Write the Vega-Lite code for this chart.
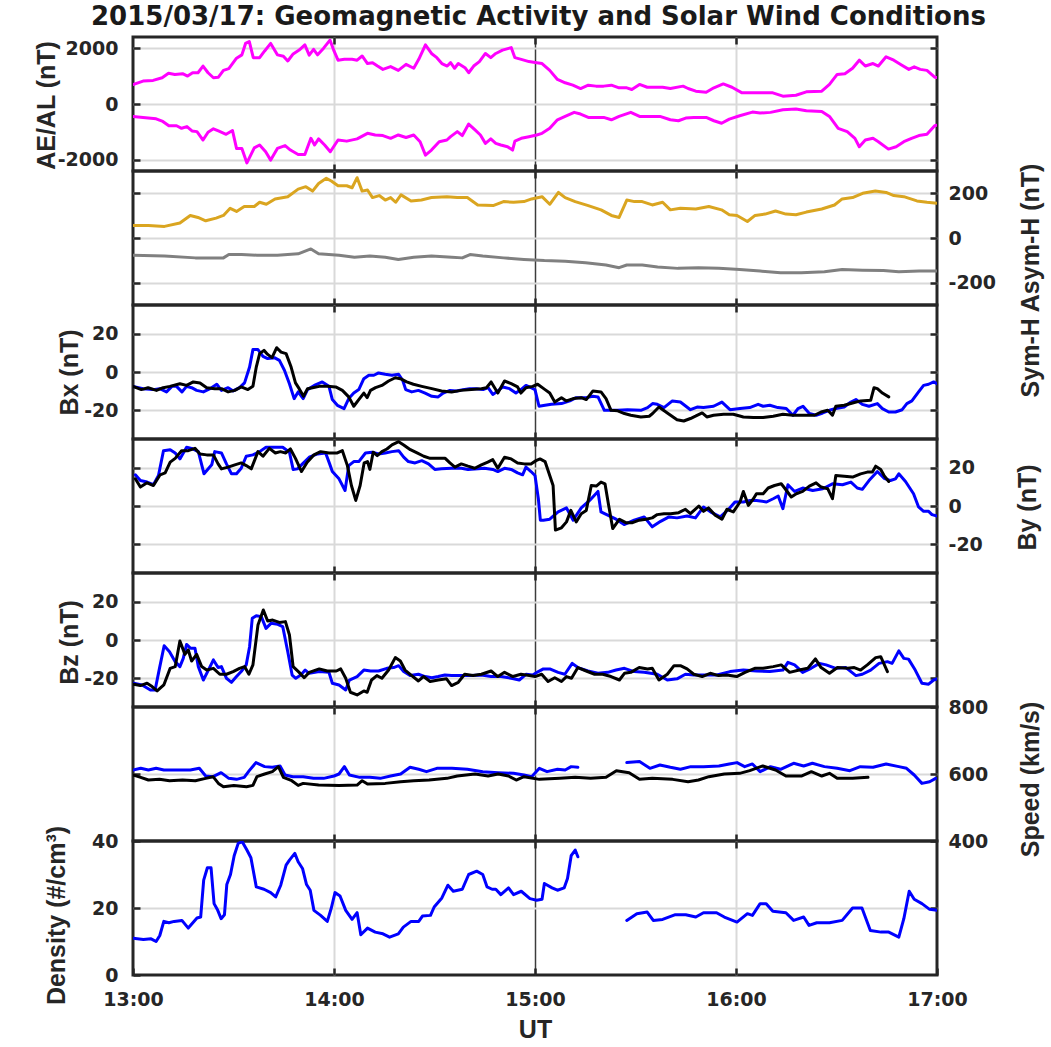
{
"$schema": "https://vega.github.io/schema/vega-lite/v6.json",
"padding": {"left": 32, "top": 4, "right": 2, "bottom": 2},
"background": "white",
"title": {"text": "2015/03/17: Geomagnetic Activity and Solar Wind Conditions", "font": "DejaVu Sans", "fontSize": 26, "fontWeight": "bold", "color": "#1a1a1a", "anchor": "middle", "offset": 4},
"bounds": "flush",
"spacing": 0,
"resolve": {"scale": {"color": "independent"}},
"config": {
  "view": {"stroke": "#262626", "strokeWidth": 3},
  "axis": {"domain": false, "tickSize": -7, "tickWidth": 2.5, "tickColor": "#262626", "gridColor": "#d9d9d9", "gridWidth": 2, "labelFont": "DejaVu Sans", "labelFontSize": 19, "labelFontWeight": "bold", "labelColor": "#262626", "titleFont": "Liberation Sans", "titleFontSize": 25, "titleFontWeight": "bold", "titleColor": "#262626"}
},
"datasets": {
"ae": [
{"m":0,"v":700,"s":"AE"},{"m":3,"v":820,"s":"AE"},{"m":6,"v":845,"s":"AE"},{"m":8.7,"v":940,"s":"AE"},{"m":10.6,"v":1100,"s":"AE"},{"m":12.5,"v":1060,"s":"AE"},{"m":14.8,"v":1085,"s":"AE"},{"m":16.3,"v":1000,"s":"AE"},{"m":17.8,"v":1120,"s":"AE"},{"m":19.4,"v":1120,"s":"AE"},{"m":20.9,"v":1360,"s":"AE"},{"m":22.4,"v":1120,"s":"AE"},{"m":24,"v":940,"s":"AE"},{"m":25.5,"v":960,"s":"AE"},{"m":27,"v":1205,"s":"AE"},{"m":28.6,"v":1265,"s":"AE"},{"m":30.9,"v":1640,"s":"AE"},{"m":32.5,"v":1760,"s":"AE"},{"m":33.6,"v":2170,"s":"AE"},{"m":34.7,"v":2240,"s":"AE"},{"m":35.9,"v":1660,"s":"AE"},{"m":37.8,"v":1660,"s":"AE"},{"m":39.3,"v":1900,"s":"AE"},{"m":41.1,"v":2170,"s":"AE"},{"m":43.1,"v":1760,"s":"AE"},{"m":44.9,"v":1710,"s":"AE"},{"m":46.2,"v":1540,"s":"AE"},{"m":47.7,"v":1780,"s":"AE"},{"m":49.6,"v":1930,"s":"AE"},{"m":51.3,"v":2120,"s":"AE"},{"m":52.6,"v":1750,"s":"AE"},{"m":53.9,"v":1960,"s":"AE"},{"m":55.1,"v":1760,"s":"AE"},{"m":56.9,"v":2000,"s":"AE"},{"m":58.8,"v":2290,"s":"AE"},{"m":60,"v":1900,"s":"AE"},{"m":61.2,"v":1570,"s":"AE"},{"m":63.1,"v":1600,"s":"AE"},{"m":65.4,"v":1600,"s":"AE"},{"m":66.9,"v":1570,"s":"AE"},{"m":68.4,"v":1720,"s":"AE"},{"m":70,"v":1450,"s":"AE"},{"m":71.5,"v":1480,"s":"AE"},{"m":73,"v":1360,"s":"AE"},{"m":74.6,"v":1240,"s":"AE"},{"m":76.9,"v":1340,"s":"AE"},{"m":79.2,"v":1205,"s":"AE"},{"m":81.5,"v":1420,"s":"AE"},{"m":83.8,"v":1280,"s":"AE"},{"m":85.3,"v":1600,"s":"AE"},{"m":87.3,"v":2120,"s":"AE"},{"m":89.1,"v":1810,"s":"AE"},{"m":90.7,"v":1660,"s":"AE"},{"m":92.2,"v":1450,"s":"AE"},{"m":93.8,"v":1360,"s":"AE"},{"m":94.8,"v":1480,"s":"AE"},{"m":96,"v":1280,"s":"AE"},{"m":97.1,"v":1450,"s":"AE"},{"m":99.1,"v":1300,"s":"AE"},{"m":100.2,"v":1120,"s":"AE"},{"m":101.7,"v":1360,"s":"AE"},{"m":103.4,"v":1520,"s":"AE"},{"m":105.2,"v":1810,"s":"AE"},{"m":106.8,"v":1660,"s":"AE"},{"m":108.3,"v":1810,"s":"AE"},{"m":110.3,"v":1930,"s":"AE"},{"m":112.9,"v":2020,"s":"AE"},{"m":114,"v":1660,"s":"AE"},{"m":115.9,"v":1600,"s":"AE"},{"m":118.2,"v":1520,"s":"AE"},{"m":120.5,"v":1480,"s":"AE"},{"m":122.1,"v":1450,"s":"AE"},{"m":124.4,"v":1205,"s":"AE"},{"m":126.7,"v":880,"s":"AE"},{"m":129,"v":760,"s":"AE"},{"m":131.3,"v":675,"s":"AE"},{"m":133.6,"v":555,"s":"AE"},{"m":135.9,"v":675,"s":"AE"},{"m":138.2,"v":640,"s":"AE"},{"m":140.5,"v":640,"s":"AE"},{"m":142.8,"v":675,"s":"AE"},{"m":145.1,"v":580,"s":"AE"},{"m":147.4,"v":580,"s":"AE"},{"m":148.9,"v":520,"s":"AE"},{"m":151.2,"v":700,"s":"AE"},{"m":153.5,"v":600,"s":"AE"},{"m":158.1,"v":600,"s":"AE"},{"m":160.4,"v":555,"s":"AE"},{"m":164.2,"v":640,"s":"AE"},{"m":165.7,"v":555,"s":"AE"},{"m":168,"v":460,"s":"AE"},{"m":171.1,"v":420,"s":"AE"},{"m":173.4,"v":580,"s":"AE"},{"m":176.2,"v":720,"s":"AE"},{"m":178.8,"v":600,"s":"AE"},{"m":181.8,"v":400,"s":"AE"},{"m":184.9,"v":400,"s":"AE"},{"m":191,"v":400,"s":"AE"},{"m":194,"v":280,"s":"AE"},{"m":197.9,"v":315,"s":"AE"},{"m":201,"v":435,"s":"AE"},{"m":205.6,"v":460,"s":"AE"},{"m":207.9,"v":700,"s":"AE"},{"m":210.2,"v":1060,"s":"AE"},{"m":212.5,"v":1085,"s":"AE"},{"m":214.8,"v":1280,"s":"AE"},{"m":216.8,"v":1570,"s":"AE"},{"m":218.6,"v":1360,"s":"AE"},{"m":220.9,"v":1450,"s":"AE"},{"m":222.5,"v":1360,"s":"AE"},{"m":224.8,"v":1690,"s":"AE"},{"m":227.1,"v":1570,"s":"AE"},{"m":229.4,"v":1400,"s":"AE"},{"m":231.6,"v":1240,"s":"AE"},{"m":233.2,"v":1330,"s":"AE"},{"m":235,"v":1240,"s":"AE"},{"m":237,"v":1205,"s":"AE"},{"m":239.3,"v":960,"s":"AE"},{"m":240,"v":950,"s":"AE"},
{"m":0,"v":-446,"s":"AL"},{"m":3,"v":-480,"s":"AL"},{"m":6.9,"v":-530,"s":"AL"},{"m":8.9,"v":-625,"s":"AL"},{"m":10.7,"v":-780,"s":"AL"},{"m":13,"v":-780,"s":"AL"},{"m":14.5,"v":-870,"s":"AL"},{"m":16.1,"v":-810,"s":"AL"},{"m":17.6,"v":-965,"s":"AL"},{"m":19.1,"v":-990,"s":"AL"},{"m":20.9,"v":-1290,"s":"AL"},{"m":22.4,"v":-1010,"s":"AL"},{"m":24,"v":-890,"s":"AL"},{"m":25.5,"v":-965,"s":"AL"},{"m":27.8,"v":-1085,"s":"AL"},{"m":29.7,"v":-950,"s":"AL"},{"m":30.9,"v":-1590,"s":"AL"},{"m":32.5,"v":-1590,"s":"AL"},{"m":34,"v":-2110,"s":"AL"},{"m":36.2,"v":-1570,"s":"AL"},{"m":37.8,"v":-1470,"s":"AL"},{"m":39.6,"v":-1710,"s":"AL"},{"m":41.1,"v":-2010,"s":"AL"},{"m":43.1,"v":-1590,"s":"AL"},{"m":45.4,"v":-1490,"s":"AL"},{"m":47,"v":-1650,"s":"AL"},{"m":49.3,"v":-1810,"s":"AL"},{"m":51.3,"v":-1810,"s":"AL"},{"m":53.1,"v":-1230,"s":"AL"},{"m":54.2,"v":-1470,"s":"AL"},{"m":55.4,"v":-1250,"s":"AL"},{"m":57.2,"v":-1470,"s":"AL"},{"m":58.9,"v":-1710,"s":"AL"},{"m":61.2,"v":-1290,"s":"AL"},{"m":63.8,"v":-1330,"s":"AL"},{"m":66.9,"v":-1250,"s":"AL"},{"m":70,"v":-1050,"s":"AL"},{"m":72.3,"v":-1110,"s":"AL"},{"m":74.6,"v":-1130,"s":"AL"},{"m":76.9,"v":-1230,"s":"AL"},{"m":79.2,"v":-1110,"s":"AL"},{"m":81.5,"v":-1200,"s":"AL"},{"m":83.8,"v":-1110,"s":"AL"},{"m":85.7,"v":-1350,"s":"AL"},{"m":87.3,"v":-1830,"s":"AL"},{"m":89.1,"v":-1650,"s":"AL"},{"m":91.4,"v":-1350,"s":"AL"},{"m":93.7,"v":-1290,"s":"AL"},{"m":94.8,"v":-1170,"s":"AL"},{"m":96.8,"v":-990,"s":"AL"},{"m":98.3,"v":-1130,"s":"AL"},{"m":100.2,"v":-720,"s":"AL"},{"m":102.1,"v":-930,"s":"AL"},{"m":103.7,"v":-1110,"s":"AL"},{"m":105.2,"v":-1410,"s":"AL"},{"m":106.8,"v":-1250,"s":"AL"},{"m":108.3,"v":-1410,"s":"AL"},{"m":109.8,"v":-1470,"s":"AL"},{"m":111.8,"v":-1530,"s":"AL"},{"m":113.3,"v":-1650,"s":"AL"},{"m":114,"v":-1330,"s":"AL"},{"m":115.9,"v":-1230,"s":"AL"},{"m":118.2,"v":-1170,"s":"AL"},{"m":120.5,"v":-1110,"s":"AL"},{"m":122.1,"v":-1050,"s":"AL"},{"m":124.4,"v":-870,"s":"AL"},{"m":126.7,"v":-565,"s":"AL"},{"m":129,"v":-445,"s":"AL"},{"m":131.7,"v":-300,"s":"AL"},{"m":133.6,"v":-360,"s":"AL"},{"m":135.9,"v":-480,"s":"AL"},{"m":138.2,"v":-480,"s":"AL"},{"m":140.5,"v":-480,"s":"AL"},{"m":142.8,"v":-565,"s":"AL"},{"m":145.1,"v":-445,"s":"AL"},{"m":148.6,"v":-300,"s":"AL"},{"m":151.2,"v":-445,"s":"AL"},{"m":153.5,"v":-445,"s":"AL"},{"m":157.3,"v":-445,"s":"AL"},{"m":160.4,"v":-565,"s":"AL"},{"m":162.8,"v":-600,"s":"AL"},{"m":165,"v":-505,"s":"AL"},{"m":167.4,"v":-480,"s":"AL"},{"m":171.1,"v":-480,"s":"AL"},{"m":173.4,"v":-600,"s":"AL"},{"m":175.7,"v":-690,"s":"AL"},{"m":178,"v":-540,"s":"AL"},{"m":181.1,"v":-420,"s":"AL"},{"m":184.9,"v":-290,"s":"AL"},{"m":187.2,"v":-325,"s":"AL"},{"m":190.3,"v":-300,"s":"AL"},{"m":194,"v":-205,"s":"AL"},{"m":197.9,"v":-180,"s":"AL"},{"m":201,"v":-240,"s":"AL"},{"m":205.6,"v":-265,"s":"AL"},{"m":207.9,"v":-445,"s":"AL"},{"m":210.5,"v":-870,"s":"AL"},{"m":213.2,"v":-990,"s":"AL"},{"m":215.5,"v":-1230,"s":"AL"},{"m":216.8,"v":-1530,"s":"AL"},{"m":218.6,"v":-1290,"s":"AL"},{"m":220.9,"v":-1230,"s":"AL"},{"m":222.5,"v":-1350,"s":"AL"},{"m":225.5,"v":-1615,"s":"AL"},{"m":227.8,"v":-1530,"s":"AL"},{"m":230.1,"v":-1350,"s":"AL"},{"m":232.4,"v":-1230,"s":"AL"},{"m":234.6,"v":-1130,"s":"AL"},{"m":237,"v":-1085,"s":"AL"},{"m":239.3,"v":-780,"s":"AL"},{"m":240,"v":-760,"s":"AL"}
],
"sym": [
{"m":0,"v":56,"s":"ASY-H"},{"m":4.6,"v":56,"s":"ASY-H"},{"m":9.4,"v":52,"s":"ASY-H"},{"m":14,"v":67,"s":"ASY-H"},{"m":17.1,"v":101,"s":"ASY-H"},{"m":19.4,"v":92,"s":"ASY-H"},{"m":21.7,"v":77,"s":"ASY-H"},{"m":24.8,"v":89,"s":"ASY-H"},{"m":27,"v":101,"s":"ASY-H"},{"m":29,"v":133,"s":"ASY-H"},{"m":30.9,"v":119,"s":"ASY-H"},{"m":33.2,"v":141,"s":"ASY-H"},{"m":36.2,"v":141,"s":"ASY-H"},{"m":37.8,"v":160,"s":"ASY-H"},{"m":39.8,"v":151,"s":"ASY-H"},{"m":42.4,"v":175,"s":"ASY-H"},{"m":46.2,"v":185,"s":"ASY-H"},{"m":49.3,"v":219,"s":"ASY-H"},{"m":51.6,"v":230,"s":"ASY-H"},{"m":53.6,"v":210,"s":"ASY-H"},{"m":55.4,"v":244,"s":"ASY-H"},{"m":57.7,"v":267,"s":"ASY-H"},{"m":59.2,"v":255,"s":"ASY-H"},{"m":61.2,"v":234,"s":"ASY-H"},{"m":63.8,"v":234,"s":"ASY-H"},{"m":65.4,"v":225,"s":"ASY-H"},{"m":66.9,"v":270,"s":"ASY-H"},{"m":68.4,"v":210,"s":"ASY-H"},{"m":70,"v":215,"s":"ASY-H"},{"m":71.5,"v":181,"s":"ASY-H"},{"m":73.5,"v":190,"s":"ASY-H"},{"m":75.3,"v":170,"s":"ASY-H"},{"m":76.9,"v":181,"s":"ASY-H"},{"m":78.4,"v":160,"s":"ASY-H"},{"m":80,"v":193,"s":"ASY-H"},{"m":83,"v":166,"s":"ASY-H"},{"m":86.1,"v":170,"s":"ASY-H"},{"m":89.1,"v":181,"s":"ASY-H"},{"m":93.7,"v":185,"s":"ASY-H"},{"m":96.8,"v":181,"s":"ASY-H"},{"m":99.8,"v":181,"s":"ASY-H"},{"m":102.9,"v":148,"s":"ASY-H"},{"m":107.5,"v":145,"s":"ASY-H"},{"m":110.6,"v":163,"s":"ASY-H"},{"m":113.6,"v":160,"s":"ASY-H"},{"m":116.7,"v":163,"s":"ASY-H"},{"m":119,"v":175,"s":"ASY-H"},{"m":122.1,"v":185,"s":"ASY-H"},{"m":124.4,"v":151,"s":"ASY-H"},{"m":127,"v":204,"s":"ASY-H"},{"m":129,"v":181,"s":"ASY-H"},{"m":132,"v":163,"s":"ASY-H"},{"m":135.9,"v":145,"s":"ASY-H"},{"m":139.7,"v":126,"s":"ASY-H"},{"m":142.8,"v":101,"s":"ASY-H"},{"m":145.1,"v":92,"s":"ASY-H"},{"m":147.4,"v":170,"s":"ASY-H"},{"m":149.7,"v":163,"s":"ASY-H"},{"m":152,"v":163,"s":"ASY-H"},{"m":155,"v":148,"s":"ASY-H"},{"m":158.1,"v":160,"s":"ASY-H"},{"m":160.4,"v":126,"s":"ASY-H"},{"m":163.4,"v":133,"s":"ASY-H"},{"m":168,"v":130,"s":"ASY-H"},{"m":171.9,"v":141,"s":"ASY-H"},{"m":175.7,"v":126,"s":"ASY-H"},{"m":178,"v":104,"s":"ASY-H"},{"m":180.3,"v":101,"s":"ASY-H"},{"m":183.4,"v":74,"s":"ASY-H"},{"m":185.7,"v":101,"s":"ASY-H"},{"m":188.7,"v":107,"s":"ASY-H"},{"m":191.8,"v":121,"s":"ASY-H"},{"m":194.9,"v":107,"s":"ASY-H"},{"m":197.9,"v":104,"s":"ASY-H"},{"m":201,"v":116,"s":"ASY-H"},{"m":205.6,"v":130,"s":"ASY-H"},{"m":209.4,"v":148,"s":"ASY-H"},{"m":211.7,"v":175,"s":"ASY-H"},{"m":214.8,"v":181,"s":"ASY-H"},{"m":217.8,"v":200,"s":"ASY-H"},{"m":221.6,"v":210,"s":"ASY-H"},{"m":224.8,"v":204,"s":"ASY-H"},{"m":227.1,"v":190,"s":"ASY-H"},{"m":230.1,"v":185,"s":"ASY-H"},{"m":234,"v":166,"s":"ASY-H"},{"m":237,"v":160,"s":"ASY-H"},{"m":240,"v":156,"s":"ASY-H"},
{"m":0,"v":-77,"s":"SYM-H"},{"m":9.4,"v":-81,"s":"SYM-H"},{"m":18.6,"v":-89,"s":"SYM-H"},{"m":27,"v":-89,"s":"SYM-H"},{"m":28.6,"v":-74,"s":"SYM-H"},{"m":32.4,"v":-74,"s":"SYM-H"},{"m":37,"v":-77,"s":"SYM-H"},{"m":43.1,"v":-77,"s":"SYM-H"},{"m":49.3,"v":-71,"s":"SYM-H"},{"m":53.1,"v":-49,"s":"SYM-H"},{"m":55.4,"v":-71,"s":"SYM-H"},{"m":61.5,"v":-77,"s":"SYM-H"},{"m":66.1,"v":-86,"s":"SYM-H"},{"m":70.7,"v":-81,"s":"SYM-H"},{"m":75.3,"v":-86,"s":"SYM-H"},{"m":79.2,"v":-96,"s":"SYM-H"},{"m":83.8,"v":-86,"s":"SYM-H"},{"m":89.1,"v":-81,"s":"SYM-H"},{"m":95.2,"v":-86,"s":"SYM-H"},{"m":98.3,"v":-89,"s":"SYM-H"},{"m":100.6,"v":-74,"s":"SYM-H"},{"m":104.4,"v":-81,"s":"SYM-H"},{"m":110.6,"v":-89,"s":"SYM-H"},{"m":116.7,"v":-96,"s":"SYM-H"},{"m":122.8,"v":-101,"s":"SYM-H"},{"m":129,"v":-104,"s":"SYM-H"},{"m":135.1,"v":-111,"s":"SYM-H"},{"m":141.2,"v":-121,"s":"SYM-H"},{"m":145.1,"v":-133,"s":"SYM-H"},{"m":147.4,"v":-121,"s":"SYM-H"},{"m":152,"v":-121,"s":"SYM-H"},{"m":156.6,"v":-130,"s":"SYM-H"},{"m":162.7,"v":-136,"s":"SYM-H"},{"m":168.8,"v":-133,"s":"SYM-H"},{"m":174.9,"v":-136,"s":"SYM-H"},{"m":181.1,"v":-141,"s":"SYM-H"},{"m":187.2,"v":-148,"s":"SYM-H"},{"m":193.3,"v":-156,"s":"SYM-H"},{"m":199.5,"v":-156,"s":"SYM-H"},{"m":206.4,"v":-151,"s":"SYM-H"},{"m":211.7,"v":-141,"s":"SYM-H"},{"m":217.8,"v":-144,"s":"SYM-H"},{"m":224,"v":-146,"s":"SYM-H"},{"m":228.6,"v":-151,"s":"SYM-H"},{"m":234.7,"v":-148,"s":"SYM-H"},{"m":240,"v":-148,"s":"SYM-H"}
],
"bx": [
{"m":0,"v":-7.5,"s":"a"},{"m":3,"v":-8.7,"s":"a"},{"m":6,"v":-9.2,"s":"a"},{"m":8,"v":-8.7,"s":"a"},{"m":10,"v":-10.4,"s":"a"},{"m":11.6,"v":-7.5,"s":"a"},{"m":13,"v":-7.5,"s":"a"},{"m":14.6,"v":-10.4,"s":"a"},{"m":16,"v":-7.5,"s":"a"},{"m":17.5,"v":-8.2,"s":"a"},{"m":19,"v":-9.6,"s":"a"},{"m":21,"v":-10.4,"s":"a"},{"m":23,"v":-8.7,"s":"a"},{"m":25,"v":-6.4,"s":"a"},{"m":26.4,"v":-9.6,"s":"a"},{"m":28.4,"v":-8.2,"s":"a"},{"m":29.9,"v":-9.9,"s":"a"},{"m":31.8,"v":-8.2,"s":"a"},{"m":33.3,"v":-5.7,"s":"a"},{"m":34.8,"v":2.6,"s":"a"},{"m":35.8,"v":11.7,"s":"a"},{"m":37.3,"v":11.7,"s":"a"},{"m":38.8,"v":8.2,"s":"a"},{"m":40.2,"v":7,"s":"a"},{"m":42.2,"v":7.5,"s":"a"},{"m":43.7,"v":6.1,"s":"a"},{"m":45.2,"v":0.9,"s":"a"},{"m":46.7,"v":-6.1,"s":"a"},{"m":48.1,"v":-13.9,"s":"a"},{"m":49.3,"v":-10.4,"s":"a"},{"m":50.8,"v":-13.9,"s":"a"},{"m":52.1,"v":-9.2,"s":"a"},{"m":54.1,"v":-7,"s":"a"},{"m":56.5,"v":-5.2,"s":"a"},{"m":58.5,"v":-7.5,"s":"a"},{"m":59.5,"v":-14.4,"s":"a"},{"m":61,"v":-17.4,"s":"a"},{"m":63,"v":-19.1,"s":"a"},{"m":64.4,"v":-13.9,"s":"a"},{"m":65.9,"v":-11,"s":"a"},{"m":67.4,"v":-9.2,"s":"a"},{"m":68.9,"v":-3.5,"s":"a"},{"m":70.4,"v":-1.7,"s":"a"},{"m":71.9,"v":-1.7,"s":"a"},{"m":73.3,"v":-0.5,"s":"a"},{"m":75.3,"v":-1.2,"s":"a"},{"m":77.3,"v":-1.7,"s":"a"},{"m":79.3,"v":-1.2,"s":"a"},{"m":80.5,"v":-4.3,"s":"a"},{"m":81.4,"v":-9.2,"s":"a"},{"m":83.2,"v":-10.4,"s":"a"},{"m":85.2,"v":-9.6,"s":"a"},{"m":87.2,"v":-11,"s":"a"},{"m":89.2,"v":-12.7,"s":"a"},{"m":91.1,"v":-13,"s":"a"},{"m":92.6,"v":-11,"s":"a"},{"m":94.6,"v":-9.6,"s":"a"},{"m":96.6,"v":-9.9,"s":"a"},{"m":98.5,"v":-9.2,"s":"a"},{"m":100.5,"v":-8.7,"s":"a"},{"m":102.5,"v":-8.7,"s":"a"},{"m":104.5,"v":-9.2,"s":"a"},{"m":106,"v":-8.2,"s":"a"},{"m":107.4,"v":-11.7,"s":"a"},{"m":108.9,"v":-9.9,"s":"a"},{"m":110.4,"v":-7.8,"s":"a"},{"m":112.4,"v":-8.7,"s":"a"},{"m":114.3,"v":-11,"s":"a"},{"m":115.8,"v":-9.2,"s":"a"},{"m":117.3,"v":-7,"s":"a"},{"m":118.8,"v":-8.2,"s":"a"},{"m":120,"v":-9.2,"s":"a"},{"m":121.2,"v":-17.9,"s":"a"},{"m":123,"v":-17.4,"s":"a"},{"m":124.9,"v":-16.9,"s":"a"},{"m":127.9,"v":-16.5,"s":"a"},{"m":130.4,"v":-15.1,"s":"a"},{"m":132.3,"v":-13.4,"s":"a"},{"m":135.3,"v":-13.4,"s":"a"},{"m":137.3,"v":-12.7,"s":"a"},{"m":138.8,"v":-13,"s":"a"},{"m":140.7,"v":-20,"s":"a"},{"m":144.7,"v":-20,"s":"a"},{"m":147.6,"v":-19.7,"s":"a"},{"m":151.6,"v":-20,"s":"a"},{"m":153.6,"v":-18.6,"s":"a"},{"m":155.1,"v":-16.5,"s":"a"},{"m":156.5,"v":-16.9,"s":"a"},{"m":158.5,"v":-18.6,"s":"a"},{"m":161,"v":-15.1,"s":"a"},{"m":163.4,"v":-15.7,"s":"a"},{"m":166.4,"v":-19.7,"s":"a"},{"m":168.4,"v":-18.3,"s":"a"},{"m":170.3,"v":-18.6,"s":"a"},{"m":173.3,"v":-17.9,"s":"a"},{"m":175.8,"v":-15.7,"s":"a"},{"m":178.2,"v":-19.7,"s":"a"},{"m":181.2,"v":-19.1,"s":"a"},{"m":184.1,"v":-18.6,"s":"a"},{"m":186.6,"v":-16.9,"s":"a"},{"m":188.1,"v":-17.9,"s":"a"},{"m":190.1,"v":-17.4,"s":"a"},{"m":192.5,"v":-18.6,"s":"a"},{"m":195,"v":-19.1,"s":"a"},{"m":197,"v":-22.6,"s":"a"},{"m":198.5,"v":-19.1,"s":"a"},{"m":200,"v":-17.9,"s":"a"},{"m":201.9,"v":-21.7,"s":"a"},{"m":203.9,"v":-22.6,"s":"a"},{"m":205.9,"v":-21.4,"s":"a"},{"m":207.9,"v":-20,"s":"a"},{"m":209.8,"v":-19.1,"s":"a"},{"m":212.3,"v":-18.3,"s":"a"},{"m":214.3,"v":-15.7,"s":"a"},{"m":215.8,"v":-14.4,"s":"a"},{"m":217.7,"v":-16.9,"s":"a"},{"m":219.7,"v":-17.9,"s":"a"},{"m":222.2,"v":-16.5,"s":"a"},{"m":223.7,"v":-19.1,"s":"a"},{"m":225.6,"v":-20.9,"s":"a"},{"m":227.6,"v":-20.9,"s":"a"},{"m":229.6,"v":-19.7,"s":"a"},{"m":231,"v":-16.5,"s":"a"},{"m":232.5,"v":-15.1,"s":"a"},{"m":234.5,"v":-10.4,"s":"a"},{"m":236,"v":-7,"s":"a"},{"m":237.5,"v":-6.4,"s":"a"},{"m":239,"v":-5.2,"s":"a"},{"m":240,"v":-6.1,"s":"a"},
{"m":0,"v":-7.5,"s":"b"},{"m":2.5,"v":-9.2,"s":"b"},{"m":4.5,"v":-8.2,"s":"b"},{"m":7,"v":-9.6,"s":"b"},{"m":9,"v":-8.2,"s":"b"},{"m":11,"v":-7.5,"s":"b"},{"m":14,"v":-6.1,"s":"b"},{"m":16,"v":-7,"s":"b"},{"m":18,"v":-5.2,"s":"b"},{"m":20,"v":-5.7,"s":"b"},{"m":22,"v":-8.2,"s":"b"},{"m":24.4,"v":-8.7,"s":"b"},{"m":26.4,"v":-8.7,"s":"b"},{"m":28.4,"v":-10.4,"s":"b"},{"m":30.4,"v":-9.6,"s":"b"},{"m":32.3,"v":-7.8,"s":"b"},{"m":34.3,"v":-9.2,"s":"b"},{"m":35.8,"v":-7.5,"s":"b"},{"m":36.8,"v":2.6,"s":"b"},{"m":37.8,"v":9.6,"s":"b"},{"m":39.1,"v":11.3,"s":"b"},{"m":40.2,"v":9.2,"s":"b"},{"m":41.5,"v":7.5,"s":"b"},{"m":42.9,"v":12.7,"s":"b"},{"m":44.2,"v":10.4,"s":"b"},{"m":45.7,"v":9.6,"s":"b"},{"m":47.2,"v":2.6,"s":"b"},{"m":48.5,"v":-5.7,"s":"b"},{"m":49.6,"v":-8.7,"s":"b"},{"m":50.9,"v":-12.7,"s":"b"},{"m":52.1,"v":-8.7,"s":"b"},{"m":53.6,"v":-8.2,"s":"b"},{"m":55.6,"v":-7.5,"s":"b"},{"m":58,"v":-7.5,"s":"b"},{"m":60.5,"v":-7.8,"s":"b"},{"m":62.5,"v":-9.6,"s":"b"},{"m":64.4,"v":-13,"s":"b"},{"m":65.9,"v":-17.9,"s":"b"},{"m":67.4,"v":-14.4,"s":"b"},{"m":68.9,"v":-11,"s":"b"},{"m":69.9,"v":-13.4,"s":"b"},{"m":70.9,"v":-9.6,"s":"b"},{"m":72.4,"v":-8.2,"s":"b"},{"m":74.3,"v":-7,"s":"b"},{"m":76.3,"v":-4.7,"s":"b"},{"m":78.3,"v":-3,"s":"b"},{"m":79.8,"v":-3.5,"s":"b"},{"m":81.7,"v":-5.2,"s":"b"},{"m":83.7,"v":-6.4,"s":"b"},{"m":86.2,"v":-7.5,"s":"b"},{"m":89.2,"v":-8.7,"s":"b"},{"m":92.1,"v":-9.9,"s":"b"},{"m":95.1,"v":-10.4,"s":"b"},{"m":98,"v":-9.6,"s":"b"},{"m":101,"v":-9.2,"s":"b"},{"m":104,"v":-8.7,"s":"b"},{"m":105.5,"v":-8.2,"s":"b"},{"m":106.9,"v":-5.2,"s":"b"},{"m":108.9,"v":-11,"s":"b"},{"m":110.9,"v":-4.7,"s":"b"},{"m":112.9,"v":-6.1,"s":"b"},{"m":114.8,"v":-7.8,"s":"b"},{"m":115.8,"v":-11,"s":"b"},{"m":117.3,"v":-8.2,"s":"b"},{"m":119.3,"v":-7.5,"s":"b"},{"m":120.8,"v":-6.4,"s":"b"},{"m":123,"v":-9.2,"s":"b"},{"m":124.4,"v":-11,"s":"b"},{"m":125.9,"v":-15.7,"s":"b"},{"m":127.9,"v":-13.4,"s":"b"},{"m":129.4,"v":-15.1,"s":"b"},{"m":131.4,"v":-13.9,"s":"b"},{"m":133.8,"v":-13.4,"s":"b"},{"m":135.3,"v":-14.4,"s":"b"},{"m":137.3,"v":-9.9,"s":"b"},{"m":139.7,"v":-10.4,"s":"b"},{"m":141.2,"v":-13.9,"s":"b"},{"m":142.7,"v":-20,"s":"b"},{"m":144.7,"v":-20.3,"s":"b"},{"m":146.7,"v":-21.7,"s":"b"},{"m":148.6,"v":-22.6,"s":"b"},{"m":151.6,"v":-23.5,"s":"b"},{"m":154.1,"v":-23.1,"s":"b"},{"m":155.1,"v":-21.7,"s":"b"},{"m":157,"v":-18.3,"s":"b"},{"m":159.5,"v":-21.4,"s":"b"},{"m":162.4,"v":-24.9,"s":"b"},{"m":164.4,"v":-25.6,"s":"b"},{"m":166.4,"v":-24.3,"s":"b"},{"m":167.9,"v":-23.1,"s":"b"},{"m":169.9,"v":-21.4,"s":"b"},{"m":171.3,"v":-23.5,"s":"b"},{"m":173.3,"v":-22.6,"s":"b"},{"m":176.3,"v":-22.1,"s":"b"},{"m":179.2,"v":-22.1,"s":"b"},{"m":182.2,"v":-23.5,"s":"b"},{"m":185.2,"v":-23.8,"s":"b"},{"m":188.1,"v":-23.8,"s":"b"},{"m":191.1,"v":-23.1,"s":"b"},{"m":194,"v":-22.1,"s":"b"},{"m":197,"v":-22.6,"s":"b"},{"m":200.9,"v":-22.6,"s":"b"},{"m":203.4,"v":-22.6,"s":"b"},{"m":205.4,"v":-20.9,"s":"b"},{"m":207.4,"v":-20,"s":"b"},{"m":208.8,"v":-22.6,"s":"b"},{"m":209.8,"v":-17.9,"s":"b"},{"m":212.3,"v":-17.4,"s":"b"},{"m":214.8,"v":-16.2,"s":"b"},{"m":217.2,"v":-15.1,"s":"b"},{"m":220.2,"v":-14.8,"s":"b"},{"m":221.2,"v":-8.2,"s":"b"},{"m":222.2,"v":-8.7,"s":"b"},{"m":223.7,"v":-11,"s":"b"},{"m":225.6,"v":-13,"s":"b"}
],
"by": [
{"m":0.7,"v":16.3,"s":"a"},{"m":2.2,"v":13.3,"s":"a"},{"m":4.2,"v":12.5,"s":"a"},{"m":6.1,"v":11.1,"s":"a"},{"m":7.6,"v":15.9,"s":"a"},{"m":9.1,"v":28.9,"s":"a"},{"m":11.1,"v":29.4,"s":"a"},{"m":12.6,"v":27.7,"s":"a"},{"m":14,"v":24.6,"s":"a"},{"m":16,"v":30.7,"s":"a"},{"m":17.5,"v":30.1,"s":"a"},{"m":19.5,"v":28.4,"s":"a"},{"m":21.2,"v":16.8,"s":"a"},{"m":23.5,"v":21.5,"s":"a"},{"m":24.4,"v":28.4,"s":"a"},{"m":26.4,"v":27.7,"s":"a"},{"m":27.9,"v":22,"s":"a"},{"m":29.4,"v":16.8,"s":"a"},{"m":30.9,"v":16.8,"s":"a"},{"m":32.3,"v":19.7,"s":"a"},{"m":33.8,"v":26,"s":"a"},{"m":35.8,"v":26.7,"s":"a"},{"m":37.8,"v":28.4,"s":"a"},{"m":39.7,"v":30.7,"s":"a"},{"m":41.7,"v":30.7,"s":"a"},{"m":44.7,"v":30.7,"s":"a"},{"m":46.7,"v":28.1,"s":"a"},{"m":47.8,"v":19.1,"s":"a"},{"m":49.1,"v":19.4,"s":"a"},{"m":50.6,"v":22,"s":"a"},{"m":52.6,"v":25.5,"s":"a"},{"m":55.1,"v":27.2,"s":"a"},{"m":57.5,"v":27.7,"s":"a"},{"m":58.7,"v":22,"s":"a"},{"m":59.5,"v":18,"s":"a"},{"m":61.5,"v":14.2,"s":"a"},{"m":63.3,"v":8.1,"s":"a"},{"m":64.4,"v":21.1,"s":"a"},{"m":65.9,"v":23.2,"s":"a"},{"m":67.4,"v":23.2,"s":"a"},{"m":69.4,"v":27.7,"s":"a"},{"m":71.4,"v":28.1,"s":"a"},{"m":73.3,"v":27.2,"s":"a"},{"m":75.3,"v":27.7,"s":"a"},{"m":77.3,"v":28.4,"s":"a"},{"m":79.3,"v":28.9,"s":"a"},{"m":80.8,"v":25.5,"s":"a"},{"m":82.2,"v":23.2,"s":"a"},{"m":84.2,"v":22.5,"s":"a"},{"m":86.2,"v":23.7,"s":"a"},{"m":88.2,"v":22,"s":"a"},{"m":90.1,"v":19.1,"s":"a"},{"m":92.1,"v":19.4,"s":"a"},{"m":95.1,"v":19.7,"s":"a"},{"m":98,"v":19.7,"s":"a"},{"m":100,"v":19.1,"s":"a"},{"m":103,"v":19.4,"s":"a"},{"m":104.9,"v":19.7,"s":"a"},{"m":107.4,"v":19.1,"s":"a"},{"m":108.9,"v":18,"s":"a"},{"m":110.9,"v":19.7,"s":"a"},{"m":112.9,"v":19.1,"s":"a"},{"m":114.8,"v":17.3,"s":"a"},{"m":116.3,"v":16.3,"s":"a"},{"m":117.3,"v":20.3,"s":"a"},{"m":118.8,"v":18,"s":"a"},{"m":120,"v":15.9,"s":"a"},{"m":121,"v":3.8,"s":"a"},{"m":121.6,"v":-7.4,"s":"a"},{"m":122.5,"v":-7.4,"s":"a"},{"m":124.4,"v":-6.9,"s":"a"},{"m":126.9,"v":-3.1,"s":"a"},{"m":129.4,"v":-1,"s":"a"},{"m":131.4,"v":-7.4,"s":"a"},{"m":133.8,"v":-1,"s":"a"},{"m":136.3,"v":2.9,"s":"a"},{"m":138.8,"v":7.6,"s":"a"},{"m":139.7,"v":-3.1,"s":"a"},{"m":141.7,"v":-4.8,"s":"a"},{"m":144.2,"v":-6.9,"s":"a"},{"m":146.6,"v":-9.7,"s":"a"},{"m":149.6,"v":-7.4,"s":"a"},{"m":152.6,"v":-5.7,"s":"a"},{"m":155,"v":-10.9,"s":"a"},{"m":157.5,"v":-8,"s":"a"},{"m":160,"v":-5.7,"s":"a"},{"m":162.4,"v":-6.2,"s":"a"},{"m":165.4,"v":-5.2,"s":"a"},{"m":167.9,"v":-6.2,"s":"a"},{"m":170.3,"v":-0.5,"s":"a"},{"m":172.8,"v":-3.5,"s":"a"},{"m":175.3,"v":-5.7,"s":"a"},{"m":177.8,"v":-1.7,"s":"a"},{"m":179.7,"v":2.1,"s":"a"},{"m":182.2,"v":2.1,"s":"a"},{"m":184.2,"v":2.9,"s":"a"},{"m":186.1,"v":2.9,"s":"a"},{"m":189.1,"v":2.1,"s":"a"},{"m":191.1,"v":3.8,"s":"a"},{"m":192.6,"v":5.2,"s":"a"},{"m":194,"v":-1.4,"s":"a"},{"m":195.5,"v":11.1,"s":"a"},{"m":197.5,"v":7.6,"s":"a"},{"m":199.9,"v":9.4,"s":"a"},{"m":202.9,"v":8.1,"s":"a"},{"m":205.9,"v":9,"s":"a"},{"m":208.8,"v":11.6,"s":"a"},{"m":211.8,"v":11.1,"s":"a"},{"m":214.3,"v":12.5,"s":"a"},{"m":216.2,"v":9.4,"s":"a"},{"m":217.7,"v":8.7,"s":"a"},{"m":219.7,"v":13.3,"s":"a"},{"m":222.2,"v":18,"s":"a"},{"m":224.2,"v":14.5,"s":"a"},{"m":226.1,"v":13.3,"s":"a"},{"m":227.6,"v":14.2,"s":"a"},{"m":228.6,"v":16.8,"s":"a"},{"m":230.6,"v":12.8,"s":"a"},{"m":233,"v":6.4,"s":"a"},{"m":234.5,"v":-0.5,"s":"a"},{"m":236,"v":-2.8,"s":"a"},{"m":237.5,"v":-2.8,"s":"a"},{"m":238.5,"v":-4.5,"s":"a"},{"m":240,"v":-5.2,"s":"a"},
{"m":0.7,"v":14.2,"s":"b"},{"m":2.2,"v":9.9,"s":"b"},{"m":4.2,"v":12.1,"s":"b"},{"m":6.1,"v":10.7,"s":"b"},{"m":8.1,"v":16.3,"s":"b"},{"m":9.6,"v":17.3,"s":"b"},{"m":11.1,"v":22.9,"s":"b"},{"m":12.6,"v":24.9,"s":"b"},{"m":14.5,"v":28.9,"s":"b"},{"m":16.5,"v":28.9,"s":"b"},{"m":18.5,"v":30.1,"s":"b"},{"m":20,"v":27.2,"s":"b"},{"m":22,"v":26.7,"s":"b"},{"m":24,"v":26.7,"s":"b"},{"m":25.4,"v":22,"s":"b"},{"m":26.4,"v":19.4,"s":"b"},{"m":28.4,"v":20.3,"s":"b"},{"m":30.4,"v":21.5,"s":"b"},{"m":32.3,"v":22.5,"s":"b"},{"m":33.8,"v":21.1,"s":"b"},{"m":35.3,"v":19.4,"s":"b"},{"m":37.3,"v":28.4,"s":"b"},{"m":38.8,"v":26,"s":"b"},{"m":40.7,"v":30.1,"s":"b"},{"m":42.5,"v":27.7,"s":"b"},{"m":44,"v":28.4,"s":"b"},{"m":45.6,"v":27.7,"s":"b"},{"m":47,"v":29.8,"s":"b"},{"m":48.5,"v":24.9,"s":"b"},{"m":50.3,"v":18,"s":"b"},{"m":52,"v":22.9,"s":"b"},{"m":54,"v":26.7,"s":"b"},{"m":56,"v":28.4,"s":"b"},{"m":58.5,"v":27.7,"s":"b"},{"m":61,"v":27.7,"s":"b"},{"m":62.5,"v":28.9,"s":"b"},{"m":64,"v":21.1,"s":"b"},{"m":65.2,"v":10.7,"s":"b"},{"m":66.5,"v":2.9,"s":"b"},{"m":67.8,"v":10.7,"s":"b"},{"m":69,"v":22.5,"s":"b"},{"m":70,"v":23.2,"s":"b"},{"m":70.7,"v":19.1,"s":"b"},{"m":71.7,"v":28.1,"s":"b"},{"m":72.9,"v":26.3,"s":"b"},{"m":74.3,"v":28.4,"s":"b"},{"m":75.8,"v":29.8,"s":"b"},{"m":77.3,"v":31.9,"s":"b"},{"m":79.3,"v":33.6,"s":"b"},{"m":80.8,"v":31.9,"s":"b"},{"m":82.8,"v":29.4,"s":"b"},{"m":84.8,"v":27.7,"s":"b"},{"m":86.8,"v":26,"s":"b"},{"m":88.7,"v":24.9,"s":"b"},{"m":90.7,"v":24.9,"s":"b"},{"m":93.2,"v":24.9,"s":"b"},{"m":94.6,"v":22.5,"s":"b"},{"m":96.1,"v":20.3,"s":"b"},{"m":98,"v":22,"s":"b"},{"m":100,"v":20.8,"s":"b"},{"m":102,"v":19.7,"s":"b"},{"m":104,"v":21.5,"s":"b"},{"m":105.9,"v":22.9,"s":"b"},{"m":107.4,"v":24.2,"s":"b"},{"m":108.9,"v":19.7,"s":"b"},{"m":110.9,"v":25.5,"s":"b"},{"m":112.9,"v":24.6,"s":"b"},{"m":114.8,"v":22.5,"s":"b"},{"m":116.8,"v":22,"s":"b"},{"m":118.8,"v":22,"s":"b"},{"m":120.3,"v":23.7,"s":"b"},{"m":121.5,"v":24.6,"s":"b"},{"m":123,"v":23.2,"s":"b"},{"m":124.4,"v":15.9,"s":"b"},{"m":125.4,"v":10.7,"s":"b"},{"m":126.1,"v":-12.6,"s":"b"},{"m":127.9,"v":-11.4,"s":"b"},{"m":129.4,"v":-8.3,"s":"b"},{"m":130.7,"v":-2.3,"s":"b"},{"m":132.3,"v":-8.3,"s":"b"},{"m":133.8,"v":-4,"s":"b"},{"m":135.3,"v":-2.3,"s":"b"},{"m":136.8,"v":10.7,"s":"b"},{"m":138.3,"v":10.4,"s":"b"},{"m":139.7,"v":12.5,"s":"b"},{"m":140.9,"v":11.6,"s":"b"},{"m":141.9,"v":1.2,"s":"b"},{"m":143.2,"v":-11.8,"s":"b"},{"m":145.2,"v":-6.9,"s":"b"},{"m":147.1,"v":-8.7,"s":"b"},{"m":149.1,"v":-8.7,"s":"b"},{"m":151.1,"v":-7.4,"s":"b"},{"m":153.1,"v":-6.9,"s":"b"},{"m":155,"v":-6.2,"s":"b"},{"m":156.5,"v":-4.5,"s":"b"},{"m":158.5,"v":-4,"s":"b"},{"m":160.5,"v":-4,"s":"b"},{"m":162.9,"v":-3.5,"s":"b"},{"m":164.9,"v":-1.7,"s":"b"},{"m":166.4,"v":-4,"s":"b"},{"m":168.9,"v":0,"s":"b"},{"m":170.3,"v":-2.8,"s":"b"},{"m":171.8,"v":-1,"s":"b"},{"m":173.8,"v":-4.8,"s":"b"},{"m":175.8,"v":-6.9,"s":"b"},{"m":177.3,"v":-1.7,"s":"b"},{"m":179.2,"v":-3.1,"s":"b"},{"m":181.2,"v":2.1,"s":"b"},{"m":182.2,"v":7.6,"s":"b"},{"m":183.7,"v":0.3,"s":"b"},{"m":185.2,"v":3.8,"s":"b"},{"m":186.1,"v":6.4,"s":"b"},{"m":188.1,"v":6.4,"s":"b"},{"m":189.6,"v":9.4,"s":"b"},{"m":191.5,"v":10.7,"s":"b"},{"m":193.5,"v":11.6,"s":"b"},{"m":194.5,"v":9.4,"s":"b"},{"m":196.5,"v":4.7,"s":"b"},{"m":198,"v":6.4,"s":"b"},{"m":199.9,"v":7.6,"s":"b"},{"m":201.9,"v":10.4,"s":"b"},{"m":203.9,"v":12.1,"s":"b"},{"m":205.4,"v":9.9,"s":"b"},{"m":207.4,"v":9,"s":"b"},{"m":208.8,"v":3.8,"s":"b"},{"m":209.8,"v":15.9,"s":"b"},{"m":212.3,"v":15.6,"s":"b"},{"m":214.8,"v":15.1,"s":"b"},{"m":217.2,"v":16.8,"s":"b"},{"m":219.2,"v":17.7,"s":"b"},{"m":220.7,"v":17.7,"s":"b"},{"m":221.7,"v":20.8,"s":"b"},{"m":223.2,"v":19.1,"s":"b"},{"m":224.2,"v":15.9,"s":"b"},{"m":225.6,"v":12.8,"s":"b"}
],
"bz": [
{"m":0.2,"v":-22.6,"s":"a"},{"m":2.7,"v":-23.5,"s":"a"},{"m":5.2,"v":-26.1,"s":"a"},{"m":6.6,"v":-26.1,"s":"a"},{"m":7.9,"v":-14.8,"s":"a"},{"m":9.3,"v":-3,"s":"a"},{"m":10.9,"v":-6.1,"s":"a"},{"m":12.6,"v":-11.3,"s":"a"},{"m":14,"v":-13.9,"s":"a"},{"m":15,"v":-9.6,"s":"a"},{"m":16,"v":-2.3,"s":"a"},{"m":17.2,"v":-4.3,"s":"a"},{"m":18.5,"v":-4.3,"s":"a"},{"m":19.5,"v":-13.9,"s":"a"},{"m":21,"v":-20.9,"s":"a"},{"m":22.5,"v":-15.7,"s":"a"},{"m":24,"v":-10.4,"s":"a"},{"m":25.4,"v":-14.4,"s":"a"},{"m":26.4,"v":-13.9,"s":"a"},{"m":27.9,"v":-20,"s":"a"},{"m":29.4,"v":-22.1,"s":"a"},{"m":30.9,"v":-19.1,"s":"a"},{"m":32.3,"v":-16.5,"s":"a"},{"m":33.8,"v":-13,"s":"a"},{"m":34.8,"v":-3.5,"s":"a"},{"m":35.6,"v":11.3,"s":"a"},{"m":36.8,"v":12.7,"s":"a"},{"m":38.3,"v":12.2,"s":"a"},{"m":39.7,"v":6.1,"s":"a"},{"m":41.2,"v":8.7,"s":"a"},{"m":43.2,"v":8.2,"s":"a"},{"m":44.7,"v":7,"s":"a"},{"m":46.2,"v":-6.1,"s":"a"},{"m":47.5,"v":-18.3,"s":"a"},{"m":48.6,"v":-20,"s":"a"},{"m":50.1,"v":-18.3,"s":"a"},{"m":51.4,"v":-15.7,"s":"a"},{"m":52.6,"v":-17.4,"s":"a"},{"m":55.6,"v":-16.5,"s":"a"},{"m":58.5,"v":-16.9,"s":"a"},{"m":59.5,"v":-22.6,"s":"a"},{"m":61.5,"v":-23.5,"s":"a"},{"m":63.5,"v":-26.1,"s":"a"},{"m":64.6,"v":-20.9,"s":"a"},{"m":66.9,"v":-19.1,"s":"a"},{"m":68.9,"v":-15.7,"s":"a"},{"m":70.9,"v":-16.2,"s":"a"},{"m":73.3,"v":-16.2,"s":"a"},{"m":75.8,"v":-14.8,"s":"a"},{"m":77.8,"v":-14.4,"s":"a"},{"m":79.3,"v":-13.4,"s":"a"},{"m":80.8,"v":-16.5,"s":"a"},{"m":82.7,"v":-18.6,"s":"a"},{"m":85.2,"v":-17.9,"s":"a"},{"m":87.2,"v":-19.1,"s":"a"},{"m":89.2,"v":-19.7,"s":"a"},{"m":91.1,"v":-19.1,"s":"a"},{"m":93.1,"v":-18.3,"s":"a"},{"m":95.1,"v":-18.6,"s":"a"},{"m":98,"v":-18.6,"s":"a"},{"m":101,"v":-18.6,"s":"a"},{"m":104,"v":-18.3,"s":"a"},{"m":106.9,"v":-19.1,"s":"a"},{"m":109.9,"v":-19.1,"s":"a"},{"m":112.9,"v":-20,"s":"a"},{"m":115.3,"v":-20.9,"s":"a"},{"m":117.3,"v":-17.9,"s":"a"},{"m":119.3,"v":-18.3,"s":"a"},{"m":121,"v":-16.5,"s":"a"},{"m":122.5,"v":-15.1,"s":"a"},{"m":124.4,"v":-15.1,"s":"a"},{"m":126.9,"v":-16.9,"s":"a"},{"m":128.9,"v":-17.9,"s":"a"},{"m":131.1,"v":-12.2,"s":"a"},{"m":132.8,"v":-14.4,"s":"a"},{"m":135.8,"v":-16.2,"s":"a"},{"m":138.8,"v":-17.4,"s":"a"},{"m":141.7,"v":-16.9,"s":"a"},{"m":144.2,"v":-15.7,"s":"a"},{"m":146.7,"v":-14.8,"s":"a"},{"m":149.6,"v":-16.5,"s":"a"},{"m":152.6,"v":-16.9,"s":"a"},{"m":156.5,"v":-17.9,"s":"a"},{"m":159.5,"v":-20.9,"s":"a"},{"m":162.4,"v":-20.3,"s":"a"},{"m":164.9,"v":-17.9,"s":"a"},{"m":167.4,"v":-18.3,"s":"a"},{"m":170.3,"v":-18.3,"s":"a"},{"m":174.3,"v":-18.3,"s":"a"},{"m":178.2,"v":-16.5,"s":"a"},{"m":182.2,"v":-15.7,"s":"a"},{"m":186.1,"v":-16.2,"s":"a"},{"m":190.1,"v":-16.5,"s":"a"},{"m":194,"v":-15.7,"s":"a"},{"m":195.5,"v":-11.7,"s":"a"},{"m":197.5,"v":-13,"s":"a"},{"m":199.9,"v":-16.9,"s":"a"},{"m":202.4,"v":-14.8,"s":"a"},{"m":204.9,"v":-12.2,"s":"a"},{"m":206.9,"v":-13,"s":"a"},{"m":209.8,"v":-14.8,"s":"a"},{"m":212.8,"v":-14.4,"s":"a"},{"m":215.8,"v":-18.6,"s":"a"},{"m":217.7,"v":-17.9,"s":"a"},{"m":220.2,"v":-15.7,"s":"a"},{"m":222.7,"v":-12.2,"s":"a"},{"m":225.2,"v":-11.3,"s":"a"},{"m":226.6,"v":-12.2,"s":"a"},{"m":228.6,"v":-5.7,"s":"a"},{"m":230.1,"v":-9.6,"s":"a"},{"m":231.5,"v":-10,"s":"a"},{"m":233.5,"v":-15.7,"s":"a"},{"m":235.5,"v":-22.6,"s":"a"},{"m":237.5,"v":-23.1,"s":"a"},{"m":239,"v":-20.9,"s":"a"},{"m":240,"v":-20.3,"s":"a"},
{"m":0.2,"v":-23.1,"s":"b"},{"m":2.2,"v":-23.8,"s":"b"},{"m":4.2,"v":-22.6,"s":"b"},{"m":5.7,"v":-24.3,"s":"b"},{"m":7.2,"v":-26.6,"s":"b"},{"m":9.2,"v":-23.5,"s":"b"},{"m":11.1,"v":-14.8,"s":"b"},{"m":12.6,"v":-13.9,"s":"b"},{"m":14,"v":-0.5,"s":"b"},{"m":15.5,"v":-7.5,"s":"b"},{"m":16.5,"v":-5.2,"s":"b"},{"m":17.5,"v":-11,"s":"b"},{"m":19,"v":-7.5,"s":"b"},{"m":20.5,"v":-13.9,"s":"b"},{"m":22,"v":-15.7,"s":"b"},{"m":24,"v":-14.8,"s":"b"},{"m":25.9,"v":-17.9,"s":"b"},{"m":27.9,"v":-17.9,"s":"b"},{"m":29.9,"v":-16.5,"s":"b"},{"m":31.8,"v":-14.8,"s":"b"},{"m":33.3,"v":-13.9,"s":"b"},{"m":34.6,"v":-17.9,"s":"b"},{"m":35.8,"v":-13,"s":"b"},{"m":37.3,"v":7.8,"s":"b"},{"m":38.9,"v":15.7,"s":"b"},{"m":40.2,"v":9.9,"s":"b"},{"m":41.7,"v":10.4,"s":"b"},{"m":43.7,"v":9.2,"s":"b"},{"m":45.5,"v":9.6,"s":"b"},{"m":46.7,"v":2.6,"s":"b"},{"m":47.8,"v":-13.9,"s":"b"},{"m":49.6,"v":-16.9,"s":"b"},{"m":51.1,"v":-19.7,"s":"b"},{"m":52.6,"v":-16.9,"s":"b"},{"m":55.6,"v":-15.1,"s":"b"},{"m":58,"v":-16.2,"s":"b"},{"m":60.7,"v":-16.2,"s":"b"},{"m":62,"v":-15.1,"s":"b"},{"m":63.5,"v":-20,"s":"b"},{"m":64.9,"v":-27.3,"s":"b"},{"m":66.9,"v":-28.7,"s":"b"},{"m":68.9,"v":-26.6,"s":"b"},{"m":69.9,"v":-27.3,"s":"b"},{"m":71.2,"v":-20.9,"s":"b"},{"m":72.8,"v":-18.6,"s":"b"},{"m":74.3,"v":-20,"s":"b"},{"m":76.3,"v":-15.7,"s":"b"},{"m":78.3,"v":-9.2,"s":"b"},{"m":79.8,"v":-11,"s":"b"},{"m":81.2,"v":-15.7,"s":"b"},{"m":83.2,"v":-18.6,"s":"b"},{"m":85.2,"v":-21.4,"s":"b"},{"m":86.7,"v":-19.1,"s":"b"},{"m":88.7,"v":-21.7,"s":"b"},{"m":91.1,"v":-20.9,"s":"b"},{"m":93.6,"v":-20.3,"s":"b"},{"m":95.1,"v":-23.8,"s":"b"},{"m":97.1,"v":-22.1,"s":"b"},{"m":99,"v":-17.9,"s":"b"},{"m":101.5,"v":-18.6,"s":"b"},{"m":104,"v":-17.9,"s":"b"},{"m":106.9,"v":-16.2,"s":"b"},{"m":108.9,"v":-19.1,"s":"b"},{"m":110.9,"v":-16.9,"s":"b"},{"m":113.4,"v":-19.1,"s":"b"},{"m":115.8,"v":-17.9,"s":"b"},{"m":118.3,"v":-18.6,"s":"b"},{"m":120,"v":-19.1,"s":"b"},{"m":122,"v":-17.9,"s":"b"},{"m":123.9,"v":-21.7,"s":"b"},{"m":125.9,"v":-19.7,"s":"b"},{"m":127.9,"v":-21.7,"s":"b"},{"m":129.4,"v":-19.1,"s":"b"},{"m":130.9,"v":-20,"s":"b"},{"m":132.8,"v":-14.4,"s":"b"},{"m":135.3,"v":-16.2,"s":"b"},{"m":137.8,"v":-17.9,"s":"b"},{"m":140.2,"v":-17.9,"s":"b"},{"m":142.7,"v":-19.1,"s":"b"},{"m":145.2,"v":-20.9,"s":"b"},{"m":146.7,"v":-17.4,"s":"b"},{"m":148.6,"v":-16.9,"s":"b"},{"m":151.1,"v":-14.4,"s":"b"},{"m":153.6,"v":-15.1,"s":"b"},{"m":155,"v":-14.8,"s":"b"},{"m":157,"v":-20.9,"s":"b"},{"m":159.5,"v":-17.9,"s":"b"},{"m":161.5,"v":-13.4,"s":"b"},{"m":163.4,"v":-13.4,"s":"b"},{"m":165.4,"v":-15.1,"s":"b"},{"m":167.4,"v":-17.9,"s":"b"},{"m":169.9,"v":-19.1,"s":"b"},{"m":172.3,"v":-17.4,"s":"b"},{"m":174.8,"v":-18.6,"s":"b"},{"m":177.3,"v":-18.3,"s":"b"},{"m":180.2,"v":-19.1,"s":"b"},{"m":182.7,"v":-16.9,"s":"b"},{"m":185.6,"v":-14.8,"s":"b"},{"m":188.1,"v":-14.8,"s":"b"},{"m":191.1,"v":-13.9,"s":"b"},{"m":193.5,"v":-13,"s":"b"},{"m":196,"v":-16.9,"s":"b"},{"m":198.9,"v":-15.7,"s":"b"},{"m":201.4,"v":-14.8,"s":"b"},{"m":203.7,"v":-9.9,"s":"b"},{"m":205.4,"v":-14.4,"s":"b"},{"m":207.9,"v":-17.4,"s":"b"},{"m":210.3,"v":-14.4,"s":"b"},{"m":213.3,"v":-14.8,"s":"b"},{"m":215.3,"v":-14.4,"s":"b"},{"m":217.2,"v":-15.7,"s":"b"},{"m":219.2,"v":-13,"s":"b"},{"m":221.7,"v":-9.2,"s":"b"},{"m":223.2,"v":-8.7,"s":"b"},{"m":225.2,"v":-16.5,"s":"b"}
],
"spd": [
{"m":0,"v":612,"s":"a","seg":1},{"m":2.3,"v":617,"s":"a","seg":1},{"m":4.6,"v":612,"s":"a","seg":1},{"m":6.9,"v":617,"s":"a","seg":1},{"m":9.2,"v":612,"s":"a","seg":1},{"m":12.3,"v":612,"s":"a","seg":1},{"m":17.1,"v":612,"s":"a","seg":1},{"m":19.8,"v":617,"s":"a","seg":1},{"m":21.7,"v":594,"s":"a","seg":1},{"m":23.9,"v":592,"s":"a","seg":1},{"m":26.3,"v":604,"s":"a","seg":1},{"m":28.6,"v":587,"s":"a","seg":1},{"m":30.9,"v":584,"s":"a","seg":1},{"m":33.2,"v":590,"s":"a","seg":1},{"m":34.7,"v":610,"s":"a","seg":1},{"m":36.7,"v":634,"s":"a","seg":1},{"m":39.3,"v":622,"s":"a","seg":1},{"m":41.6,"v":620,"s":"a","seg":1},{"m":43.9,"v":624,"s":"a","seg":1},{"m":45.4,"v":597,"s":"a","seg":1},{"m":47.7,"v":592,"s":"a","seg":1},{"m":50.8,"v":592,"s":"a","seg":1},{"m":53.9,"v":587,"s":"a","seg":1},{"m":56.9,"v":587,"s":"a","seg":1},{"m":60,"v":594,"s":"a","seg":1},{"m":61.5,"v":600,"s":"a","seg":1},{"m":63.1,"v":622,"s":"a","seg":1},{"m":64.6,"v":597,"s":"a","seg":1},{"m":67.7,"v":590,"s":"a","seg":1},{"m":70.7,"v":590,"s":"a","seg":1},{"m":73.8,"v":587,"s":"a","seg":1},{"m":76.9,"v":594,"s":"a","seg":1},{"m":79.9,"v":600,"s":"a","seg":1},{"m":82.7,"v":620,"s":"a","seg":1},{"m":85.3,"v":614,"s":"a","seg":1},{"m":87.6,"v":607,"s":"a","seg":1},{"m":90.7,"v":617,"s":"a","seg":1},{"m":95.2,"v":617,"s":"a","seg":1},{"m":99.8,"v":614,"s":"a","seg":1},{"m":104.4,"v":607,"s":"a","seg":1},{"m":109,"v":604,"s":"a","seg":1},{"m":113.6,"v":602,"s":"a","seg":1},{"m":116.7,"v":597,"s":"a","seg":1},{"m":119,"v":592,"s":"a","seg":1},{"m":121.3,"v":617,"s":"a","seg":1},{"m":123.6,"v":607,"s":"a","seg":1},{"m":126.7,"v":614,"s":"a","seg":1},{"m":129,"v":612,"s":"a","seg":1},{"m":130.8,"v":622,"s":"a","seg":1},{"m":132.8,"v":620,"s":"a","seg":1},
{"m":147.4,"v":634,"s":"a","seg":2},{"m":151.2,"v":637,"s":"a","seg":2},{"m":154.3,"v":617,"s":"a","seg":2},{"m":157.3,"v":627,"s":"a","seg":2},{"m":160.4,"v":620,"s":"a","seg":2},{"m":163.4,"v":614,"s":"a","seg":2},{"m":166.5,"v":622,"s":"a","seg":2},{"m":170.3,"v":622,"s":"a","seg":2},{"m":174.9,"v":624,"s":"a","seg":2},{"m":178,"v":630,"s":"a","seg":2},{"m":180.3,"v":634,"s":"a","seg":2},{"m":182.6,"v":622,"s":"a","seg":2},{"m":184.9,"v":630,"s":"a","seg":2},{"m":187.2,"v":607,"s":"a","seg":2},{"m":190.3,"v":622,"s":"a","seg":2},{"m":193.3,"v":614,"s":"a","seg":2},{"m":197.2,"v":632,"s":"a","seg":2},{"m":200.2,"v":624,"s":"a","seg":2},{"m":202.8,"v":632,"s":"a","seg":2},{"m":206.4,"v":622,"s":"a","seg":2},{"m":210.2,"v":617,"s":"a","seg":2},{"m":214,"v":610,"s":"a","seg":2},{"m":217.1,"v":622,"s":"a","seg":2},{"m":220.9,"v":620,"s":"a","seg":2},{"m":224.8,"v":630,"s":"a","seg":2},{"m":228.6,"v":622,"s":"a","seg":2},{"m":230.9,"v":617,"s":"a","seg":2},{"m":233.2,"v":597,"s":"a","seg":2},{"m":235.5,"v":572,"s":"a","seg":2},{"m":237.8,"v":577,"s":"a","seg":2},{"m":239.6,"v":587,"s":"a","seg":2},
{"m":0,"v":597,"s":"b","seg":1},{"m":2.3,"v":590,"s":"b","seg":1},{"m":4.6,"v":582,"s":"b","seg":1},{"m":7.9,"v":584,"s":"b","seg":1},{"m":10.9,"v":580,"s":"b","seg":1},{"m":14.8,"v":582,"s":"b","seg":1},{"m":18.6,"v":580,"s":"b","seg":1},{"m":21.7,"v":587,"s":"b","seg":1},{"m":23.9,"v":592,"s":"b","seg":1},{"m":25.5,"v":572,"s":"b","seg":1},{"m":27,"v":562,"s":"b","seg":1},{"m":30.1,"v":566,"s":"b","seg":1},{"m":33.9,"v":562,"s":"b","seg":1},{"m":35.8,"v":566,"s":"b","seg":1},{"m":37,"v":592,"s":"b","seg":1},{"m":39.3,"v":600,"s":"b","seg":1},{"m":41.6,"v":607,"s":"b","seg":1},{"m":43.4,"v":622,"s":"b","seg":1},{"m":44.9,"v":590,"s":"b","seg":1},{"m":47.4,"v":580,"s":"b","seg":1},{"m":49.3,"v":566,"s":"b","seg":1},{"m":50.8,"v":572,"s":"b","seg":1},{"m":55.4,"v":567,"s":"b","seg":1},{"m":61.5,"v":566,"s":"b","seg":1},{"m":66.9,"v":567,"s":"b","seg":1},{"m":68.4,"v":580,"s":"b","seg":1},{"m":70,"v":570,"s":"b","seg":1},{"m":75.3,"v":572,"s":"b","seg":1},{"m":79.9,"v":577,"s":"b","seg":1},{"m":83.8,"v":580,"s":"b","seg":1},{"m":88.4,"v":582,"s":"b","seg":1},{"m":93.7,"v":587,"s":"b","seg":1},{"m":96.8,"v":594,"s":"b","seg":1},{"m":102.1,"v":600,"s":"b","seg":1},{"m":106,"v":594,"s":"b","seg":1},{"m":109,"v":600,"s":"b","seg":1},{"m":112.1,"v":594,"s":"b","seg":1},{"m":114.4,"v":582,"s":"b","seg":1},{"m":116.7,"v":592,"s":"b","seg":1},{"m":121.3,"v":584,"s":"b","seg":1},{"m":127.4,"v":587,"s":"b","seg":1},{"m":132,"v":590,"s":"b","seg":1},{"m":136.6,"v":587,"s":"b","seg":1},{"m":141.2,"v":590,"s":"b","seg":1},{"m":144.3,"v":610,"s":"b","seg":1},{"m":148.1,"v":604,"s":"b","seg":1},{"m":151.2,"v":584,"s":"b","seg":1},{"m":155,"v":587,"s":"b","seg":1},{"m":161.1,"v":584,"s":"b","seg":1},{"m":165.7,"v":577,"s":"b","seg":1},{"m":168.8,"v":582,"s":"b","seg":1},{"m":171.9,"v":592,"s":"b","seg":1},{"m":176.5,"v":600,"s":"b","seg":1},{"m":181.1,"v":602,"s":"b","seg":1},{"m":184.1,"v":610,"s":"b","seg":1},{"m":188,"v":624,"s":"b","seg":1},{"m":191.8,"v":612,"s":"b","seg":1},{"m":194.9,"v":594,"s":"b","seg":1},{"m":199.5,"v":594,"s":"b","seg":1},{"m":202.5,"v":607,"s":"b","seg":1},{"m":205.6,"v":594,"s":"b","seg":1},{"m":207.9,"v":602,"s":"b","seg":1},{"m":210.2,"v":587,"s":"b","seg":1},{"m":214.8,"v":587,"s":"b","seg":1},{"m":219.4,"v":590,"s":"b","seg":1}
],
"den": [
{"m":0,"v":11,"seg":1},{"m":3.1,"v":10.6,"seg":1},{"m":5.4,"v":10.8,"seg":1},{"m":6.9,"v":10,"seg":1},{"m":8,"v":11.8,"seg":1},{"m":9.2,"v":16,"seg":1},{"m":10.7,"v":15.6,"seg":1},{"m":12.3,"v":16,"seg":1},{"m":14.6,"v":16.3,"seg":1},{"m":16.5,"v":14,"seg":1},{"m":19.1,"v":17,"seg":1},{"m":20.2,"v":17.3,"seg":1},{"m":21.1,"v":28.3,"seg":1},{"m":22.2,"v":32,"seg":1},{"m":23.3,"v":32,"seg":1},{"m":24.2,"v":21.3,"seg":1},{"m":25.3,"v":19.3,"seg":1},{"m":26.3,"v":16.8,"seg":1},{"m":27.3,"v":18,"seg":1},{"m":28,"v":27,"seg":1},{"m":29.1,"v":30,"seg":1},{"m":30.2,"v":35.6,"seg":1},{"m":31.4,"v":39.3,"seg":1},{"m":32.6,"v":39.8,"seg":1},{"m":34,"v":37.3,"seg":1},{"m":35.2,"v":35,"seg":1},{"m":36.8,"v":26.3,"seg":1},{"m":39.1,"v":25.6,"seg":1},{"m":41.1,"v":24.6,"seg":1},{"m":42.6,"v":23.3,"seg":1},{"m":44.1,"v":26.8,"seg":1},{"m":45.7,"v":32.8,"seg":1},{"m":46.7,"v":34.3,"seg":1},{"m":48.3,"v":36.3,"seg":1},{"m":49.3,"v":33.8,"seg":1},{"m":50.6,"v":31.8,"seg":1},{"m":51.8,"v":27,"seg":1},{"m":52.9,"v":25.3,"seg":1},{"m":54,"v":19.3,"seg":1},{"m":56,"v":17.8,"seg":1},{"m":58,"v":16,"seg":1},{"m":59.2,"v":20,"seg":1},{"m":60.3,"v":24.6,"seg":1},{"m":61.8,"v":23.6,"seg":1},{"m":63.5,"v":19.3,"seg":1},{"m":65.4,"v":16.6,"seg":1},{"m":66.9,"v":18.6,"seg":1},{"m":68,"v":12,"seg":1},{"m":70,"v":14,"seg":1},{"m":72.3,"v":12.8,"seg":1},{"m":74.6,"v":12.3,"seg":1},{"m":76.6,"v":11.3,"seg":1},{"m":79.2,"v":12.3,"seg":1},{"m":80.7,"v":14.3,"seg":1},{"m":83,"v":16,"seg":1},{"m":85.3,"v":16,"seg":1},{"m":86.4,"v":17.6,"seg":1},{"m":88.8,"v":17.8,"seg":1},{"m":89.9,"v":20.3,"seg":1},{"m":92.2,"v":23,"seg":1},{"m":94,"v":26.8,"seg":1},{"m":95.6,"v":25,"seg":1},{"m":98.3,"v":25.6,"seg":1},{"m":100.2,"v":30,"seg":1},{"m":102.6,"v":31,"seg":1},{"m":104.4,"v":30,"seg":1},{"m":105.7,"v":26.3,"seg":1},{"m":107.2,"v":25.6,"seg":1},{"m":108.3,"v":25.6,"seg":1},{"m":109.8,"v":24,"seg":1},{"m":112.1,"v":26,"seg":1},{"m":113.6,"v":24,"seg":1},{"m":115.9,"v":25,"seg":1},{"m":118.5,"v":22.8,"seg":1},{"m":120.5,"v":22.3,"seg":1},{"m":122.1,"v":22.6,"seg":1},{"m":122.8,"v":27.3,"seg":1},{"m":125.1,"v":26,"seg":1},{"m":126.7,"v":25.3,"seg":1},{"m":128.7,"v":26,"seg":1},{"m":129.7,"v":28.8,"seg":1},{"m":130.8,"v":35.6,"seg":1},{"m":132,"v":37.3,"seg":1},{"m":132.8,"v":35.3,"seg":1},
{"m":147.4,"v":16.3,"seg":2},{"m":150.4,"v":18.3,"seg":2},{"m":153.5,"v":18.8,"seg":2},{"m":155.3,"v":16.3,"seg":2},{"m":158.1,"v":16.6,"seg":2},{"m":161.9,"v":18,"seg":2},{"m":165,"v":18,"seg":2},{"m":168,"v":17.3,"seg":2},{"m":170.3,"v":18.6,"seg":2},{"m":174.2,"v":18.6,"seg":2},{"m":176.5,"v":17.3,"seg":2},{"m":180.3,"v":15.8,"seg":2},{"m":183.4,"v":18.3,"seg":2},{"m":184.9,"v":17.8,"seg":2},{"m":187.2,"v":21.3,"seg":2},{"m":189,"v":21.3,"seg":2},{"m":191,"v":19,"seg":2},{"m":194.9,"v":18.6,"seg":2},{"m":197.2,"v":16.3,"seg":2},{"m":200.2,"v":17.3,"seg":2},{"m":201.8,"v":14.8,"seg":2},{"m":204.1,"v":15.6,"seg":2},{"m":207.9,"v":15.6,"seg":2},{"m":211.7,"v":16.3,"seg":2},{"m":214.8,"v":20,"seg":2},{"m":217.6,"v":20,"seg":2},{"m":220.1,"v":13.3,"seg":2},{"m":223.3,"v":12.8,"seg":2},{"m":225.6,"v":12.8,"seg":2},{"m":228.6,"v":11.3,"seg":2},{"m":230.1,"v":16.8,"seg":2},{"m":231.7,"v":25,"seg":2},{"m":233.2,"v":22.6,"seg":2},{"m":235.5,"v":21.3,"seg":2},{"m":237.8,"v":19.6,"seg":2},{"m":240,"v":19.3,"seg":2}
]
},
"vconcat": [
{
 "width": 804, "height": 134,
 "data": {"name": "ae"},
 "layer": [
  {"mark": {"type": "line", "strokeWidth": 3, "strokeJoin": "round", "strokeCap": "round", "clip": true},
   "encoding": {
    "x": {"field": "m", "type": "quantitative", "scale": {"domain": [0, 240], "nice": false, "zero": false}, "axis": {"orient": "bottom", "values": [60, 120, 180], "labels": false, "grid": false, "title": null}},
    "y": {"field": "v", "type": "quantitative", "scale": {"domain": [-2400, 2400], "nice": false, "zero": false}, "axis": {"orient": "left", "values": [-2000, 0, 2000], "grid": true, "labelExpr": "datum.value + ''", "labelPadding": 22, "title": "AE/AL (nT)", "titleX": -87, "titleY": 68, "titleAngle": 270, "titleAlign": "center", "titleBaseline": "middle"}},
    "color": {"field": "s", "type": "nominal", "scale": {"domain": ["AE", "AL"], "range": ["#ff00ff", "#ff00ff"]}, "legend": null}
   }},
  {"mark": {"type": "line", "opacity": 0},
   "encoding": {
    "x": {"field": "m", "type": "quantitative", "axis": {"orient": "top", "values": [60, 120, 180], "labels": false, "grid": true, "gridColor": {"condition": {"test": "datum.value === 120", "value": "#3c3c3c"}, "value": "#d9d9d9"}, "gridWidth": {"condition": {"test": "datum.value === 120", "value": 1.5}, "value": 2}, "title": null}},
    "y": {"field": "v", "type": "quantitative", "axis": {"orient": "right", "values": [-2000, 0, 2000], "labels": false, "grid": false, "title": null}}
   }}
 ],
 "resolve": {"axis": {"x": "independent", "y": "independent"}}
},
{
 "width": 804, "height": 134,
 "data": {"name": "sym"},
 "layer": [
  {"mark": {"type": "line", "strokeWidth": 3, "strokeJoin": "round", "strokeCap": "round", "clip": true},
   "encoding": {
    "x": {"field": "m", "type": "quantitative", "scale": {"domain": [0, 240], "nice": false, "zero": false}, "axis": {"orient": "bottom", "values": [60, 120, 180], "labels": false, "grid": false, "title": null}},
    "y": {"field": "v", "type": "quantitative", "scale": {"domain": [-300, 300], "nice": false, "zero": false}, "axis": {"orient": "left", "values": [-200, 0, 200], "labels": false, "grid": true, "title": null}},
    "color": {"field": "s", "type": "nominal", "scale": {"domain": ["ASY-H", "SYM-H"], "range": ["#daa520", "#808080"]}, "legend": null}
   }},
  {"mark": {"type": "line", "opacity": 0},
   "encoding": {
    "x": {"field": "m", "type": "quantitative", "axis": {"orient": "top", "values": [60, 120, 180], "labels": false, "grid": true, "gridColor": {"condition": {"test": "datum.value === 120", "value": "#3c3c3c"}, "value": "#d9d9d9"}, "gridWidth": {"condition": {"test": "datum.value === 120", "value": 1.5}, "value": 2}, "title": null}},
    "y": {"field": "v", "type": "quantitative", "axis": {"orient": "right", "values": [-200, 0, 200], "labelExpr": "datum.value + ''", "labelPadding": 18, "grid": false, "title": "Sym-H Asym-H (nT)", "titleX": 93, "titleY": 109, "titleAngle": 270, "titleAlign": "center", "titleBaseline": "middle"}}
   }}
 ],
 "resolve": {"axis": {"x": "independent", "y": "independent"}}
},
{
 "width": 804, "height": 134,
 "data": {"name": "bx"},
 "layer": [
  {"mark": {"type": "line", "strokeWidth": 3, "strokeJoin": "round", "strokeCap": "round", "clip": true},
   "encoding": {
    "x": {"field": "m", "type": "quantitative", "scale": {"domain": [0, 240], "nice": false, "zero": false}, "axis": {"orient": "bottom", "values": [60, 120, 180], "labels": false, "grid": false, "title": null}},
    "y": {"field": "v", "type": "quantitative", "scale": {"domain": [-35, 35], "nice": false, "zero": false}, "axis": {"orient": "left", "values": [-20, 0, 20], "grid": true, "labelExpr": "datum.value + ''", "labelPadding": 22, "title": "Bx (nT)", "titleX": -64, "titleY": 67, "titleAngle": 270, "titleAlign": "center", "titleBaseline": "middle"}},
    "color": {"field": "s", "type": "nominal", "scale": {"domain": ["a", "b"], "range": ["#0000ff", "#000000"]}, "legend": null}
   }},
  {"mark": {"type": "line", "opacity": 0},
   "encoding": {
    "x": {"field": "m", "type": "quantitative", "axis": {"orient": "top", "values": [60, 120, 180], "labels": false, "grid": true, "gridColor": {"condition": {"test": "datum.value === 120", "value": "#3c3c3c"}, "value": "#d9d9d9"}, "gridWidth": {"condition": {"test": "datum.value === 120", "value": 1.5}, "value": 2}, "title": null}},
    "y": {"field": "v", "type": "quantitative", "axis": {"orient": "right", "values": [-20, 0, 20], "labels": false, "grid": false, "title": null}}
   }}
 ],
 "resolve": {"axis": {"x": "independent", "y": "independent"}}
},
{
 "width": 804, "height": 134,
 "data": {"name": "by"},
 "layer": [
  {"mark": {"type": "line", "strokeWidth": 3, "strokeJoin": "round", "strokeCap": "round", "clip": true},
   "encoding": {
    "x": {"field": "m", "type": "quantitative", "scale": {"domain": [0, 240], "nice": false, "zero": false}, "axis": {"orient": "bottom", "values": [60, 120, 180], "labels": false, "grid": false, "title": null}},
    "y": {"field": "v", "type": "quantitative", "scale": {"domain": [-35, 35], "nice": false, "zero": false}, "axis": {"orient": "left", "values": [-20, 0, 20], "labels": false, "grid": true, "title": null}},
    "color": {"field": "s", "type": "nominal", "scale": {"domain": ["a", "b"], "range": ["#0000ff", "#000000"]}, "legend": null}
   }},
  {"mark": {"type": "line", "opacity": 0},
   "encoding": {
    "x": {"field": "m", "type": "quantitative", "axis": {"orient": "top", "values": [60, 120, 180], "labels": false, "grid": true, "gridColor": {"condition": {"test": "datum.value === 120", "value": "#3c3c3c"}, "value": "#d9d9d9"}, "gridWidth": {"condition": {"test": "datum.value === 120", "value": 1.5}, "value": 2}, "title": null}},
    "y": {"field": "v", "type": "quantitative", "axis": {"orient": "right", "values": [-20, 0, 20], "labelExpr": "datum.value + ''", "labelPadding": 18, "grid": false, "title": "By (nT)", "titleX": 90, "titleY": 68, "titleAngle": 270, "titleAlign": "center", "titleBaseline": "middle"}}
   }}
 ],
 "resolve": {"axis": {"x": "independent", "y": "independent"}}
},
{
 "width": 804, "height": 134,
 "data": {"name": "bz"},
 "layer": [
  {"mark": {"type": "line", "strokeWidth": 3, "strokeJoin": "round", "strokeCap": "round", "clip": true},
   "encoding": {
    "x": {"field": "m", "type": "quantitative", "scale": {"domain": [0, 240], "nice": false, "zero": false}, "axis": {"orient": "bottom", "values": [60, 120, 180], "labels": false, "grid": false, "title": null}},
    "y": {"field": "v", "type": "quantitative", "scale": {"domain": [-35, 35], "nice": false, "zero": false}, "axis": {"orient": "left", "values": [-20, 0, 20], "grid": true, "labelExpr": "datum.value + ''", "labelPadding": 22, "title": "Bz (nT)", "titleX": -64, "titleY": 69, "titleAngle": 270, "titleAlign": "center", "titleBaseline": "middle"}},
    "color": {"field": "s", "type": "nominal", "scale": {"domain": ["a", "b"], "range": ["#0000ff", "#000000"]}, "legend": null}
   }},
  {"mark": {"type": "line", "opacity": 0},
   "encoding": {
    "x": {"field": "m", "type": "quantitative", "axis": {"orient": "top", "values": [60, 120, 180], "labels": false, "grid": true, "gridColor": {"condition": {"test": "datum.value === 120", "value": "#3c3c3c"}, "value": "#d9d9d9"}, "gridWidth": {"condition": {"test": "datum.value === 120", "value": 1.5}, "value": 2}, "title": null}},
    "y": {"field": "v", "type": "quantitative", "axis": {"orient": "right", "values": [-20, 0, 20], "labels": false, "grid": false, "title": null}}
   }}
 ],
 "resolve": {"axis": {"x": "independent", "y": "independent"}}
},
{
 "width": 804, "height": 134,
 "data": {"name": "spd"},
 "layer": [
  {"mark": {"type": "line", "strokeWidth": 3, "strokeJoin": "round", "strokeCap": "round", "clip": true},
   "encoding": {
    "x": {"field": "m", "type": "quantitative", "scale": {"domain": [0, 240], "nice": false, "zero": false}, "axis": {"orient": "bottom", "values": [60, 120, 180], "labels": false, "grid": false, "title": null}},
    "y": {"field": "v", "type": "quantitative", "scale": {"domain": [400, 800], "nice": false, "zero": false}, "axis": {"orient": "left", "values": [600], "labels": false, "grid": true, "title": null}},
    "color": {"field": "s", "type": "nominal", "scale": {"domain": ["a", "b"], "range": ["#0000ff", "#000000"]}, "legend": null},
    "detail": {"field": "seg", "type": "nominal"}
   }},
  {"mark": {"type": "line", "opacity": 0},
   "encoding": {
    "x": {"field": "m", "type": "quantitative", "axis": {"orient": "top", "values": [60, 120, 180], "labels": false, "grid": true, "gridColor": {"condition": {"test": "datum.value === 120", "value": "#3c3c3c"}, "value": "#d9d9d9"}, "gridWidth": {"condition": {"test": "datum.value === 120", "value": 1.5}, "value": 2}, "title": null}},
    "y": {"field": "v", "type": "quantitative", "axis": {"orient": "right", "values": [400, 600, 800], "labelExpr": "datum.value + ''", "labelPadding": 18, "grid": false, "title": "Speed (km/s)", "titleX": 93, "titleY": 72, "titleAngle": 270, "titleAlign": "center", "titleBaseline": "middle"}}
   }}
 ],
 "resolve": {"axis": {"x": "independent", "y": "independent"}}
},
{
 "width": 804, "height": 134,
 "data": {"name": "den"},
 "layer": [
  {"mark": {"type": "line", "strokeWidth": 3, "strokeJoin": "round", "strokeCap": "round", "clip": true, "color": "#0000ff"},
   "encoding": {
    "x": {"field": "m", "type": "quantitative", "scale": {"domain": [0, 240], "nice": false, "zero": false}, "axis": {"orient": "bottom", "values": [0, 60, 120, 180, 240], "labels": true, "labelFlush": false, "labelExpr": "(13 + datum.value / 60) + ':00'", "labelPadding": 22, "grid": false, "title": "UT", "titleX": 402, "titleY": 54, "titleBaseline": "middle", "titleAlign": "center"}},
    "y": {"field": "v", "type": "quantitative", "scale": {"domain": [0, 40], "nice": false, "zero": false}, "axis": {"orient": "left", "values": [0, 20, 40], "grid": false, "labelExpr": "datum.value + ''", "labelPadding": 22, "title": "Density (#/cm³)", "titleX": -77, "titleY": 74, "titleAngle": 270, "titleAlign": "center", "titleBaseline": "middle"}},
    "detail": {"field": "seg", "type": "nominal"}
   }},
  {"mark": {"type": "line", "opacity": 0},
   "encoding": {
    "x": {"field": "m", "type": "quantitative", "axis": {"orient": "top", "values": [60, 120, 180], "labels": false, "grid": true, "gridColor": {"condition": {"test": "datum.value === 120", "value": "#3c3c3c"}, "value": "#d9d9d9"}, "gridWidth": {"condition": {"test": "datum.value === 120", "value": 1.5}, "value": 2}, "title": null}},
    "y": {"field": "v", "type": "quantitative", "axis": {"orient": "right", "values": [20], "labels": false, "grid": true, "title": null}},
    "detail": {"field": "seg", "type": "nominal"}
   }}
 ],
 "resolve": {"axis": {"x": "independent", "y": "independent"}}
}
]
}
